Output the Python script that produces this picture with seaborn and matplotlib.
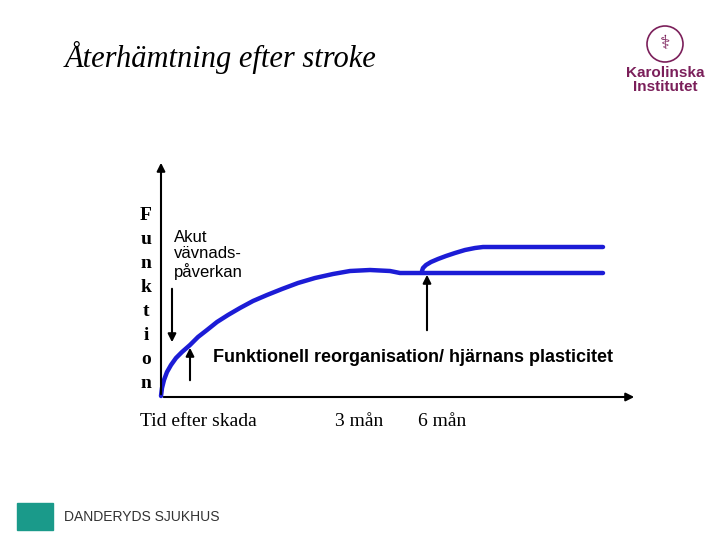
import matplotlib
matplotlib.use("Agg")
import matplotlib.pyplot as plt
import seaborn as sns
import pandas as pd

# Curve points (pixel-like coordinates of the slide, y grows downward)
base_x = [161, 162, 164, 167, 171, 176, 182, 190, 198, 207, 217, 228, 240, 253,
          267, 282, 298, 315, 333, 350, 370, 390, 400, 450, 520, 603]
base_y = [396, 388, 380, 372, 365, 358, 352, 345, 337, 330, 322, 315, 308, 301,
          295, 289, 283, 278, 274, 271, 270, 271, 273, 273, 273, 273]
branch_x = [422, 423, 426, 431, 438, 446, 455, 465, 475, 483, 540, 603]
branch_y = [271, 268, 265, 262, 259, 256, 253, 250, 248, 247, 247, 247]

ylabel_letters = list("Funktion")
xlabels = ["Tid efter skada", "3 mån", "6 mån"]
xlabel_pos = [140, 335, 418]

sns.set_theme(style="white")
plt.rcParams['font.family'] = ['DejaVu Sans']
plt.rcParams['text.color'] = 'black'

fig = plt.figure(figsize=(7.2, 5.4), dpi=100)
ax = fig.add_axes([0, 0, 1, 1])
ax.set_xlim(0, 720)
ax.set_ylim(540, 0)
ax.axis("off")

blue = "#1c1cd6"
sns.lineplot(data=pd.DataFrame({"x": base_x, "y": base_y}), x="x", y="y",
             sort=False, color=blue, lw=3.2, ax=ax)
sns.lineplot(data=pd.DataFrame({"x": branch_x, "y": branch_y}), x="x", y="y",
             sort=False, color=blue, lw=3.2, ax=ax)

arr = dict(arrowstyle="-|>", color="black", lw=1.5, mutation_scale=12)
ax.annotate("", xy=(161, 160), xytext=(161, 397), arrowprops=arr)
ax.annotate("", xy=(637, 397), xytext=(161, 397), arrowprops=arr)
ax.annotate("", xy=(172, 345), xytext=(172, 286), arrowprops=arr)
ax.annotate("", xy=(190, 345), xytext=(190, 383), arrowprops=arr)
ax.annotate("", xy=(427, 272), xytext=(427, 333), arrowprops=arr)

serif = "Liberation Serif"
ax.text(65, 57, "Återhämtning efter stroke", family=serif, style="italic",
        fontsize=22, va="center")
for i, ch in enumerate(ylabel_letters):
    ax.text(146, 215 + i * 24, ch, family=serif, weight="bold", fontsize=14,
            ha="center", va="center")
for lab, x in zip(xlabels, xlabel_pos):
    ax.text(x, 422, lab, family=serif, fontsize=14, va="center")

ax.text(174, 230, "Akut\nvävnads-\npåverkan", family="Liberation Sans",
        fontsize=12, va="top", linespacing=1.12)
ax.text(213, 358, "Funktionell reorganisation/ hjärnans plasticitet",
        family="Liberation Sans", weight="bold", fontsize=13, va="center")

purple = "#7b1f5a"
ax.text(665, 80, "Karolinska\nInstitutet", family="Liberation Sans", weight="bold",
        fontsize=11, color=purple, ha="center", va="center", linespacing=0.95)
ax.add_patch(plt.Circle((665, 44), 18, fill=False, ec=purple, lw=1.2))
ax.text(665, 44, "⚕", fontsize=14, color=purple, ha="center", va="center")

teal = "#1a9a8a"
ax.add_patch(plt.Rectangle((17, 503), 36, 27, color=teal))
ax.text(64, 517, "DANDERYDS SJUKHUS", family="Liberation Sans", fontsize=10,
        color="#333333", va="center")

fig.savefig("out.png", dpi=100)
